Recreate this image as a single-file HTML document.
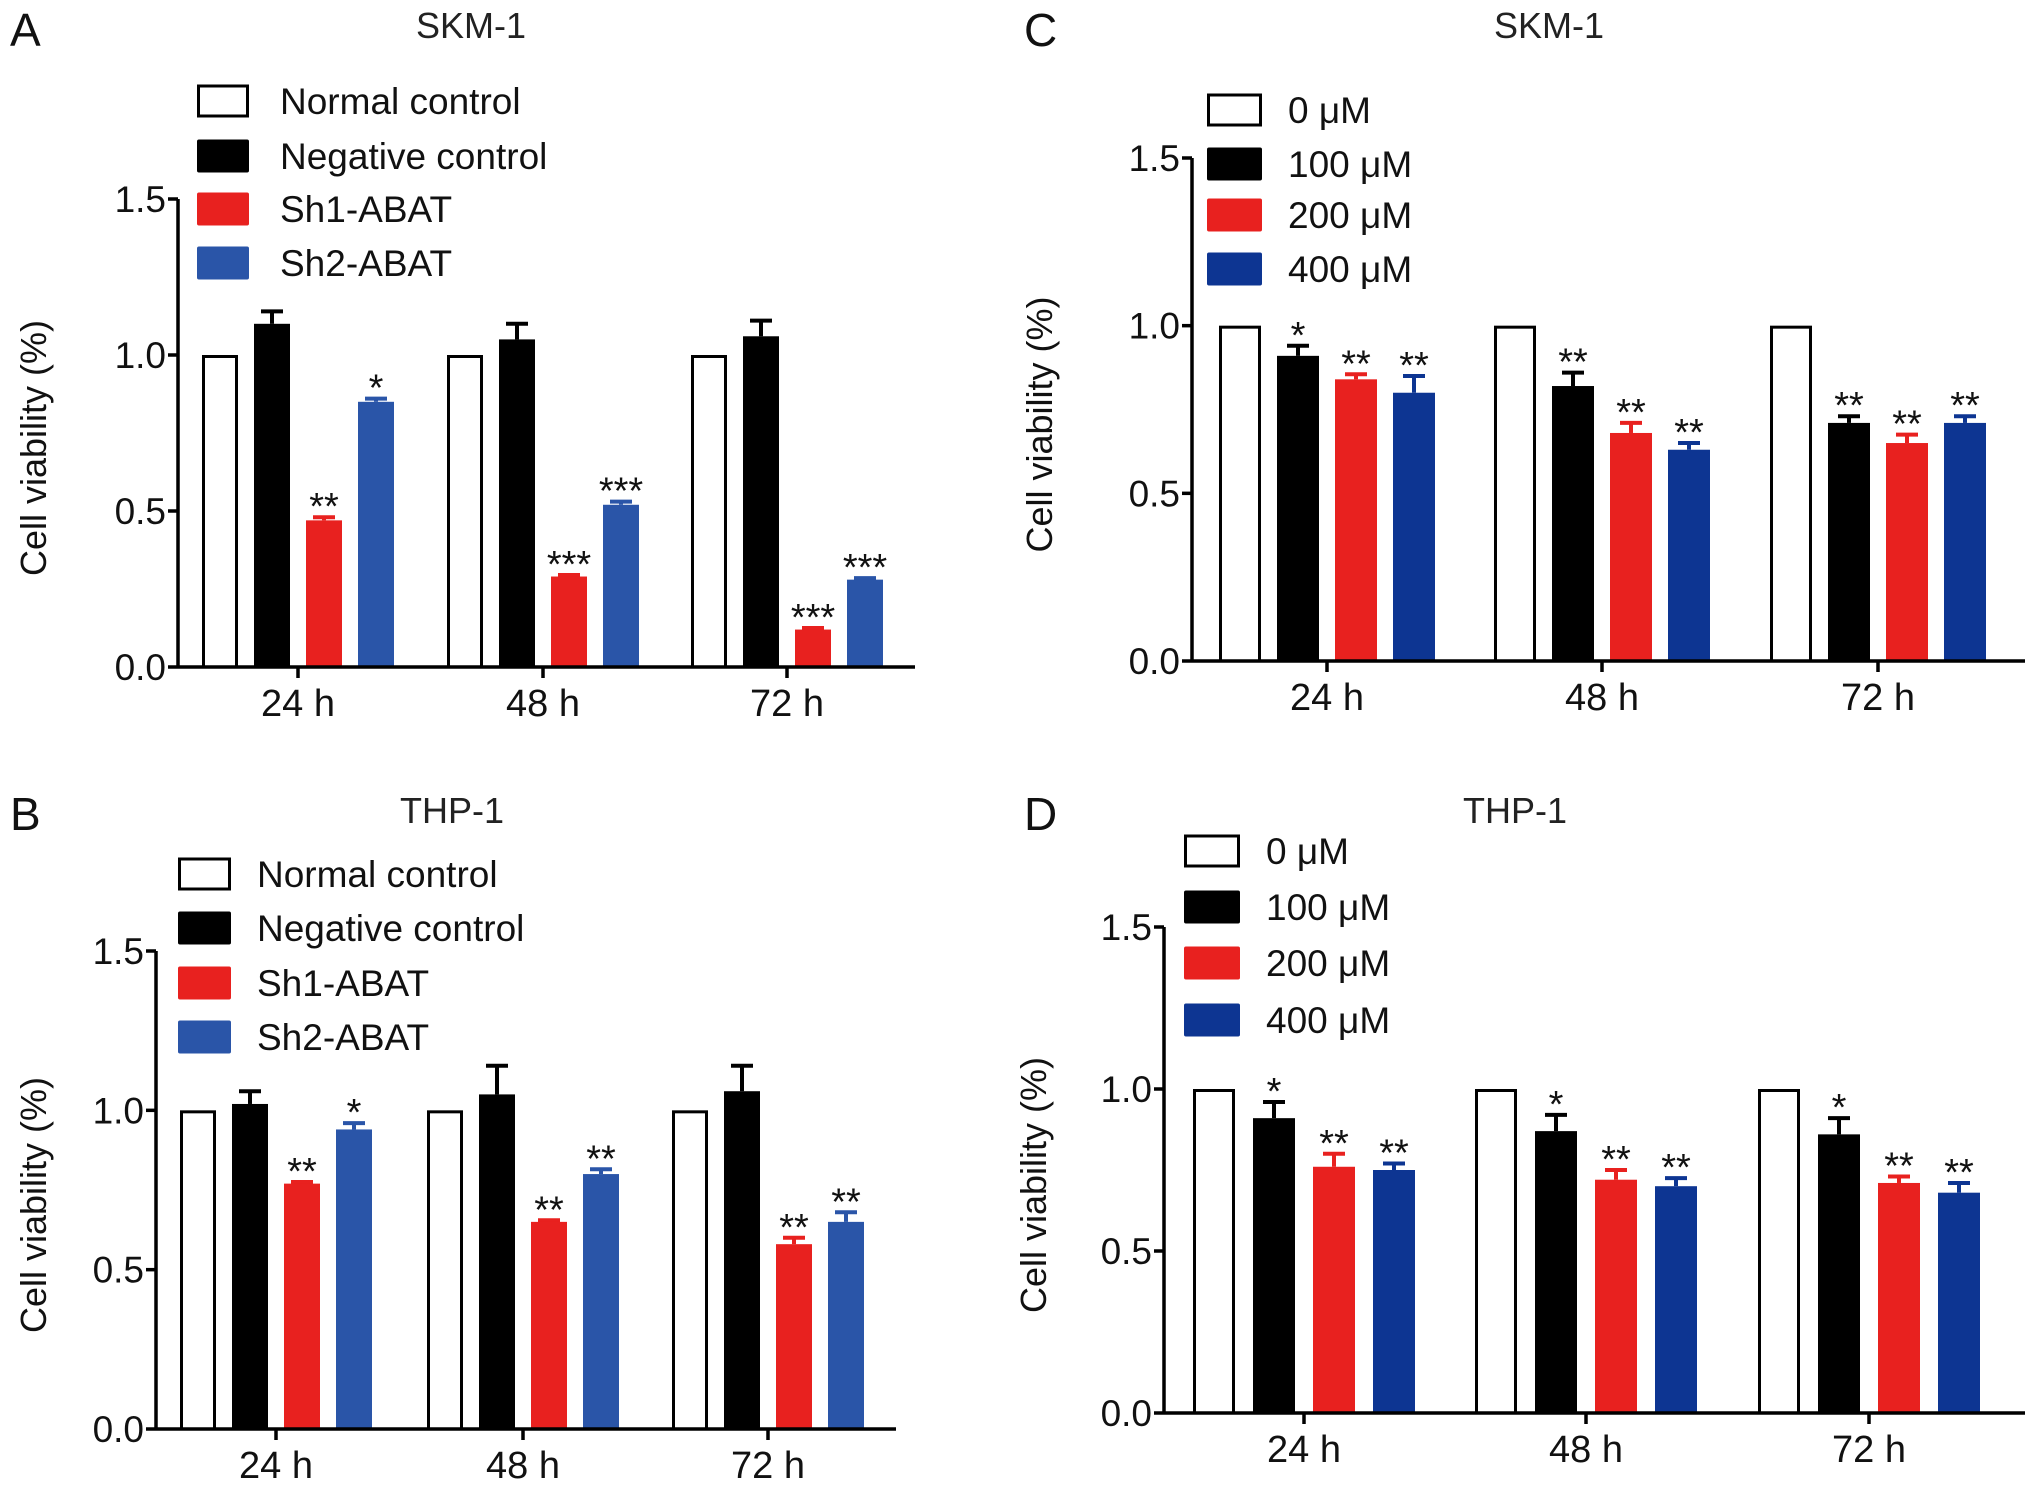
<!DOCTYPE html>
<html><head><meta charset="utf-8">
<style>
html,body{margin:0;padding:0;background:#fff;}
svg{display:block;font-family:"Liberation Sans",Arial,sans-serif;}
</style></head>
<body>
<svg id="fig" width="2031" height="1489" viewBox="0 0 2031 1489" xmlns="http://www.w3.org/2000/svg"></svg>
<script>
const categories = ["24 h","48 h","72 h"];
const yTicks = [0.0,0.5,1.0,1.5];
const yTickLabels = ["0.0","0.5","1.0","1.5"];
const seriesNamesAB = ["Normal control","Negative control","Sh1-ABAT","Sh2-ABAT"];
const seriesNamesCD = ["0 \u03bcM","100 \u03bcM","200 \u03bcM","400 \u03bcM"];

const aValues = [[1,1,1],[1.10,1.05,1.06],[0.47,0.29,0.12],[0.85,0.52,0.28]];
const aErrors = [[0,0,0],[0.04,0.05,0.05],[0.01,0.005,0.005],[0.01,0.01,0.005]];
const aStars = [["","",""],["","",""],["**","***","***"],["*","***","***"]];

const bValues = [[1,1,1],[1.02,1.05,1.06],[0.77,0.65,0.58],[0.94,0.80,0.65]];
const bErrors = [[0,0,0],[0.04,0.09,0.08],[0.005,0.005,0.02],[0.02,0.015,0.03]];
const bStars = [["","",""],["","",""],["**","**","**"],["*","**","**"]];

const cValues = [[1,1,1],[0.91,0.82,0.71],[0.84,0.68,0.65],[0.80,0.63,0.71]];
const cErrors = [[0,0,0],[0.03,0.04,0.02],[0.015,0.03,0.025],[0.05,0.02,0.02]];
const cStars = [["","",""],["*","**","**"],["**","**","**"],["**","**","**"]];

const dValues = [[1,1,1],[0.91,0.87,0.86],[0.76,0.72,0.71],[0.75,0.70,0.68]];
const dErrors = [[0,0,0],[0.05,0.05,0.05],[0.04,0.03,0.02],[0.02,0.025,0.03]];
const dStars = [["","",""],["*","*","*"],["**","**","**"],["**","**","**"]];

const NS="http://www.w3.org/2000/svg";
const svg=document.getElementById('fig');
function mk(tag,attrs,parent){const e=document.createElementNS(NS,tag);for(const k in attrs)e.setAttribute(k,attrs[k]);(parent||svg).appendChild(e);return e;}

function panel(cfg){
  const g=mk('g',{});
  
  
  const y=v=>cfg.y0-(v/1.5)*(cfg.y0-cfg.y15);
  const catX=i=>cfg.cats[i];
  const L=mk('text',{x:cfg.letterX,y:cfg.letterY,'font-size':46,fill:'#111'},g);L.textContent=cfg.letter;
  
  
  const T=mk('text',{x:cfg.titleX,y:cfg.titleY,'font-size':36,'text-anchor':'middle',fill:'#222'},g);T.textContent=cfg.title;
  
  
  for(let s=0;s<4;s++){
    for(let c=0;c<3;c++){
      const v=cfg.values[s][c], e=cfg.errors[s][c];
      const cx=catX(c)+(s-1.5)*cfg.spacing;
      const x=cx-cfg.bw/2;
      if(e>0){
        const ey=y(v+e);
        const l=mk('line',{x1:cx,x2:cx,y1:y(v),y2:ey,stroke:cfg.colors[s],'stroke-width':4},g);
        
        
        const cap=mk('line',{x1:cx-11,x2:cx+11,y1:ey,y2:ey,stroke:cfg.colors[s],'stroke-width':4},g);
        
        
      }
      let r;
      if(s===0){r=mk('rect',{x:x+1.5,y:y(v)+1.5,width:cfg.bw-3,height:y(0)-y(v)-1.5,fill:'#fff',stroke:'#000','stroke-width':3},g);}
      else{r=mk('rect',{x:x,y:y(v),width:cfg.bw,height:y(0)-y(v),fill:cfg.colors[s]},g);}
      
      
      const st=cfg.stars[s][c];
      if(st){
        const t=mk('text',{x:cx,y:y(v+e)+2,'font-size':38,'text-anchor':'middle',fill:'#111'},g);t.textContent=st;
        
        
      }
    }
  }
  const ya=mk('line',{x1:cfg.ax,x2:cfg.ax,y1:cfg.y15,y2:cfg.y0+1.5,stroke:'#000','stroke-width':3.5},g);
  
  
  const xa=mk('line',{x1:cfg.ax,x2:cfg.xEnd,y1:cfg.y0,y2:cfg.y0,stroke:'#000','stroke-width':3.5},g);
  
  
  yTicks.forEach((v,i)=>{
    mk('line',{x1:cfg.ax-10,x2:cfg.ax,y1:y(v),y2:y(v),stroke:'#000','stroke-width':3.5},g);
    const t=mk('text',{x:cfg.ax-12,y:y(v)+13,'font-size':37,'text-anchor':'end',fill:'#111'},g);t.textContent=yTickLabels[i];
    
    
  });
  categories.forEach((c,i)=>{
    mk('line',{x1:catX(i),x2:catX(i),y1:cfg.y0,y2:cfg.y0+11,stroke:'#000','stroke-width':3.5},g);
    const t=mk('text',{x:catX(i),y:cfg.y0+49,'font-size':38,'text-anchor':'middle',fill:'#111'},g);t.textContent=c;
    
    
  });
  const yl=mk('text',{x:0,y:0,'font-size':36,'text-anchor':'middle',fill:'#111',transform:`translate(${cfg.ylX},${(cfg.y0+cfg.y15)/2+15}) rotate(-90)`},g);
  yl.textContent='Cell viability (%)';
  
  
  cfg.legY.forEach((ly,s)=>{
    let r;
    if(s===0) r=mk('rect',{x:cfg.legX+1.5,y:ly-15,width:cfg.legW-3,height:30,fill:'#fff',stroke:'#000','stroke-width':3},g);
    else r=mk('rect',{x:cfg.legX,y:ly-16.5,width:cfg.legW,height:33,rx:2,fill:cfg.colors[s]},g);
    
    
    const t=mk('text',{x:cfg.legTX,y:ly+13,'font-size':37,fill:'#111'},g);t.textContent=cfg.names[s];
    
    
  });
}

panel({letter:'A',letterX:10,letterY:46,title:'SKM-1',titleX:471,titleY:38,ax:178,y0:667,y15:199,xEnd:915,
  cats:[298,543,787],spacing:52,bw:36,colors:['#fff','#000','#e8211f','#2a55a8'],names:seriesNamesAB,
  values:aValues,errors:aErrors,stars:aStars,ylX:46,legX:197,legW:52,legTX:280,legY:[101,156,209,263]});
panel({letter:'B',letterX:10,letterY:830,title:'THP-1',titleX:452,titleY:823,ax:156,y0:1429,y15:951,xEnd:896,
  cats:[276,523,768],spacing:52,bw:36,colors:['#fff','#000','#e8211f','#2a55a8'],names:seriesNamesAB,
  values:bValues,errors:bErrors,stars:bStars,ylX:46,legX:178,legW:53,legTX:257,legY:[874,928,983,1037]});
panel({letter:'C',letterX:1024,letterY:46,title:'SKM-1',titleX:1549,titleY:38,ax:1192,y0:661,y15:158,xEnd:2025,
  cats:[1327,1602,1878],spacing:58,bw:42,colors:['#fff','#000','#e8211f','#0d3592'],names:seriesNamesCD,
  values:cValues,errors:cErrors,stars:cStars,ylX:1052,legX:1207,legW:55,legTX:1288,legY:[110,164,215,269]});
panel({letter:'D',letterX:1024,letterY:830,title:'THP-1',titleX:1515,titleY:823,ax:1164,y0:1413,y15:927,xEnd:2025,
  cats:[1304,1586,1869],spacing:60,bw:42,colors:['#fff','#000','#e8211f','#0d3592'],names:seriesNamesCD,
  values:dValues,errors:dErrors,stars:dStars,ylX:1046,legX:1184,legW:56,legTX:1266,legY:[851,907,963,1020]});
</script>
</body></html>
